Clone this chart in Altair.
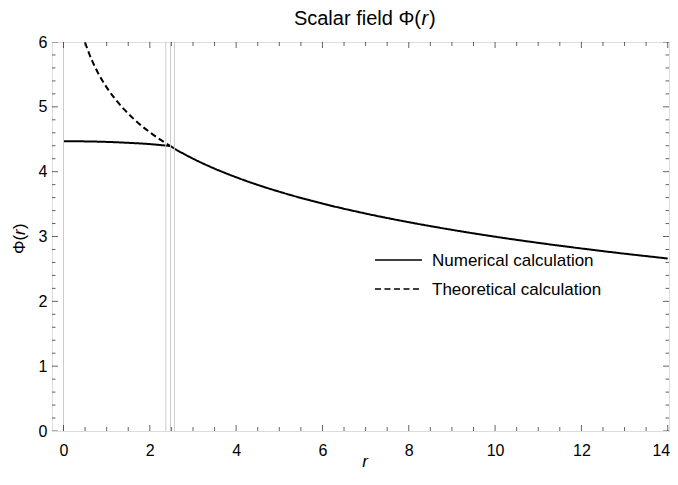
import altair as alt
import pandas as pd

# ---- data ----
num_in_r = [0.0, 0.5, 1.0, 1.5, 2.0, 2.48]
num_in_phi = [4.470, 4.467, 4.459, 4.445, 4.425, 4.395]
num_out_r = [2.48, 2.6, 2.8, 3.0, 3.5, 4.0, 4.5, 5.0, 5.5, 6.0, 7.0, 8.0, 9.0, 10.0, 11.0, 12.0, 13.0, 14.0]
num_out_phi = [4.395, 4.344, 4.270, 4.201, 4.047, 3.914, 3.796, 3.691, 3.595, 3.508, 3.354, 3.221,
               3.103, 2.997, 2.902, 2.815, 2.735, 2.661]
theo_r = [0.5, 0.55, 0.6, 0.65, 0.7, 0.75, 0.8, 0.9, 1.0, 1.2, 1.4, 1.6, 1.8, 2.0, 2.2, 2.48]
theo_phi = [5.993, 5.898, 5.811, 5.731, 5.657, 5.588, 5.523, 5.405, 5.300, 5.118, 4.964, 4.830,
            4.712, 4.607, 4.512, 4.395]
grid_r = [0.0, 2.37, 2.48, 2.57]

x_major = [0, 2, 4, 6, 8, 10, 12, 14]
x_minor = [0.5, 1, 1.5, 2.5, 3, 3.5, 4.5, 5, 5.5, 6.5, 7, 7.5, 8.5, 9, 9.5, 10.5, 11, 11.5, 12.5, 13, 13.5]
y_major = [0, 1, 2, 3, 4, 5, 6]
y_minor = [0.2, 0.4, 0.6, 0.8, 1.2, 1.4, 1.6, 1.8, 2.2, 2.4, 2.6, 2.8, 3.2, 3.4, 3.6, 3.8,
           4.2, 4.4, 4.6, 4.8, 5.2, 5.4, 5.6, 5.8]

NUM = "Numerical calculation"
THEO = "Theoretical calculation"
legend_labels = [NUM, THEO]

rows = []
for r, p in zip(num_in_r, num_in_phi):
    rows.append({"r": r, "phi": p, "series": NUM, "seg": "num_in"})
for r, p in zip(num_out_r, num_out_phi):
    rows.append({"r": r, "phi": p, "series": NUM, "seg": "num_out"})
for r, p in zip(theo_r, theo_phi):
    rows.append({"r": r, "phi": p, "series": THEO, "seg": "theo"})
curves = pd.DataFrame(rows)

W, H = 617, 389
FONT = "Liberation Sans"
DASH = [6, 3.5]

xscale = alt.Scale(domain=[-0.2665, 14.03], nice=False, zero=False)
yscale = alt.Scale(domain=[0, 6], nice=False, zero=False)

xaxis = alt.Axis(values=x_major, tickSize=0, domain=False, grid=False, labelFontSize=16,
                 labelColor="black", labelPadding=11, title="", labelFont=FONT, format="d",
                 labelFlush=5, labelFlushOffset=2, labelOverlap=False)
yaxis = alt.Axis(values=y_major, tickSize=0, domain=False, grid=False, labelFontSize=16,
                 labelColor="black", labelPadding=5, title="", labelFont=FONT, format="d")

# gray vertical grid lines
grid = alt.Chart(pd.DataFrame({"r": grid_r})).mark_rule(color="#cccccc", strokeWidth=1).encode(
    x=alt.X("r:Q", scale=xscale, axis=xaxis)
)

lines = alt.Chart(curves).mark_line(color="black", strokeWidth=2, interpolate="monotone", clip=True).encode(
    x=alt.X("r:Q", scale=xscale, axis=xaxis),
    y=alt.Y("phi:Q", scale=yscale, axis=yaxis),
    strokeDash=alt.StrokeDash("series:N",
                              scale=alt.Scale(domain=[NUM, THEO], range=[[1, 0], DASH]),
                              legend=None),
    detail="seg:N",
    order=alt.Order("r:Q"),
)

def xticks(vals, size):
    return alt.Chart(pd.DataFrame({"r": vals})).mark_tick(
        color="#222222", thickness=1, size=size, clip=True, orient="vertical").encode(
        x=alt.X("r:Q", scale=xscale, axis=xaxis))

def yticks(vals, size):
    return alt.Chart(pd.DataFrame({"phi": vals})).mark_tick(
        color="#222222", thickness=1, size=size, clip=True, orient="horizontal").encode(
        y=alt.Y("phi:Q", scale=yscale, axis=yaxis))

tick_layers = []
for vals, size in [(x_major, 12), (x_minor, 8)]:
    tick_layers.append(xticks(vals, size).encode(y=alt.value(H)))
    tick_layers.append(xticks(vals, size).encode(y=alt.value(0)))
for vals, size in [(y_major, 12), (y_minor, 7)]:
    tick_layers.append(yticks(vals, size).encode(x=alt.value(0)))
    tick_layers.append(yticks(vals, size).encode(x=alt.value(W)))

# text helper (titles with mixed upright / italic pieces, legend labels)
def txt(s, x, y, align, style="normal", size=20, angle=0, baseline="alphabetic"):
    return alt.Chart(pd.DataFrame({"s": [s]})).mark_text(
        align=align, baseline=baseline, font=FONT, fontSize=size, fontStyle=style,
        color="black", angle=angle).encode(text="s:N", x=alt.value(x), y=alt.value(y))

title_parts = [
    txt("Scalar field \u03a6(", 369, -17, "right"),
    txt("r", 369.5, -17, "left", "italic"),
    txt(")", 377, -17, "left"),
]
ytitle_parts = [
    txt("\u03a6(", -27, 212, "left", size=17, angle=270),
    txt("r", -27, 193, "left", "italic", size=17, angle=270),
    txt(")", -27, 187, "left", size=17, angle=270),
]
xtitle = txt("r", 313, H + 35.5, "center", "italic", size=17)

# legend (drawn as a small key inside the frame)
LX0, LX1, LTX = 323, 370, 380
LY = [218, 247]
leg_solid = alt.Chart(pd.DataFrame({"s": [NUM]})).mark_rule(color="black", strokeWidth=1.6).encode(
    x=alt.value(LX0), x2=alt.value(LX1), y=alt.value(LY[0]))
leg_dash = alt.Chart(pd.DataFrame({"s": [THEO]})).mark_rule(
    color="black", strokeWidth=1.6, strokeDash=DASH).encode(
    x=alt.value(LX0), x2=alt.value(LX1), y=alt.value(LY[1]))
leg_text = [txt(lbl, LTX, yy + 1, "left", size=17, baseline="middle") for lbl, yy in zip(legend_labels, LY)]

chart = alt.layer(lines, grid, *tick_layers, *title_parts, *ytitle_parts, xtitle,
                  leg_solid, leg_dash, *leg_text).properties(
    width=W, height=H,
    autosize=alt.AutoSizeParams(type="none"),
    padding={"left": 44, "top": 34, "right": 1, "bottom": 40},
).configure_view(stroke="#444444", strokeWidth=1.2).configure(font=FONT)

chart.save("out.html", embed_options={"renderer": "svg", "actions": False})
